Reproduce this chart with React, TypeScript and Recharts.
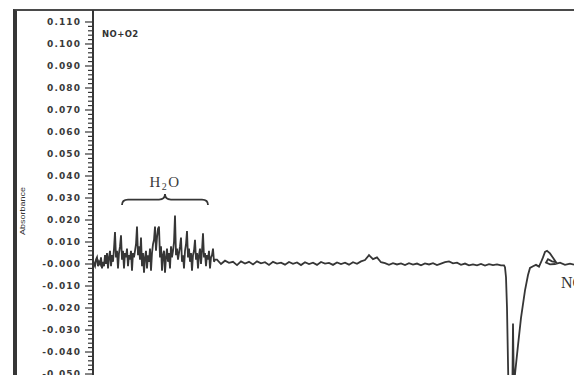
import React from 'react';
import { LineChart, Line, XAxis, YAxis, ReferenceArea, Customized } from 'recharts';

// Water band region: absorbance per channel, channels 0–122
const waterBandAbsorbance = [
  0.002, 0.0, -0.001, 0.002, 0.003, -0.001, 0.001, 0.0, 0.003, -0.002, 0.001, -0.001,
  0.004, 0.0, 0.005, -0.002, 0.003, 0.006, -0.001, 0.004, 0.001, 0.007,
  0.0145, 0.003, 0.006, -0.002, 0.005, 0.008, 0.013, 0.002, 0.006, -0.002,
  0.005, 0.003, 0.007, -0.001, 0.004, 0.002, 0.006, -0.003, 0.005, 0.003,
  0.006, 0.009, 0.017, 0.004, 0.008, 0.002, 0.012, -0.001, 0.005, -0.004,
  0.003, 0.006, -0.002, 0.004, 0.001, 0.007, -0.003, 0.005, 0.009, 0.011,
  0.017, 0.006, 0.012, 0.016, 0.017, 0.003, 0.008, -0.003, 0.004, 0.006,
  -0.004, 0.003, 0.007, 0.001, 0.005, -0.002, 0.008, 0.003, 0.006, 0.01,
  0.022, 0.004, 0.007, 0.002, 0.005, 0.008, 0.012, 0.001, 0.004, -0.002,
  0.006, 0.009, 0.015, 0.003, 0.007, 0.001, 0.005, -0.003, 0.004, 0.006,
  0.011, 0.002, 0.005, -0.002, 0.004, 0.007, 0.0, 0.006, 0.014, 0.003,
  0.005, -0.001, 0.004, 0.002, 0.006, -0.002, 0.003, 0.004, 0.007, 0.001, 0.002,
];

// Flat stretch: absorbance every 4 channels, from channel 124 to 408
const BASELINE_START = 124;
const BASELINE_STEP = 4;
const baselineAbsorbance = [
  0.002, 0.0, 0.0015, 0.0005, 0.001, -0.0005, 0.0012, 0.0002,
  0.001, -0.0002, 0.0012, 0.0003, 0.0008, -0.0004, 0.001, 0.0002,
  0.0006, -0.0003, 0.0009, 0.0001, 0.0007, -0.0005, 0.0008, 0.0,
  0.0006, -0.0004, 0.0009, 0.0002, 0.0005, -0.0004, 0.0007, 0.0,
  0.0006, -0.0003, 0.0008, 0.0001, 0.0012, 0.0018, 0.004, 0.0022,
  0.003, 0.0008, 0.0004, -0.0004, 0.0004, -0.0002, 0.0003, -0.0005,
  0.0004, -0.0003, 0.0002, -0.0006, 0.0003, -0.0002, 0.0004, -0.0005,
  0.0002, 0.0008, 0.0012, 0.0003, 0.0006, -0.0004, 0.0002, -0.0006,
  -0.0002, -0.0006, 0.0, -0.0007, -0.0001, -0.0005, -0.0002, -0.0006,
];

// NO band: negative band and the small feature after it (traced in order)
const noBandChannels = [
  411, 412, 413, 414, 415, 416, 418, 419, 420, 421, 422, 425, 428, 432, 435, 437,
  440, 443, 446, 448, 450, 452, 454, 457, 460, 463, 459, 455, 453, 457, 462, 467,
  472, 477, 481,
];
const noBandAbsorbance = [
  -0.0006, -0.0015, -0.006, -0.02, -0.045, -0.07, -0.078, -0.075, -0.027, -0.06,
  -0.05, -0.037, -0.0245, -0.012, -0.005, -0.0018, -0.001, -0.0004, -0.0012, 0.0008,
  0.003, 0.0055, 0.006, 0.0048, 0.0028, 0.0008, 0.0012, 0.0022, 0.0006, -0.0002,
  0.0, 0.0006, -0.0004, 0.0002, -0.0003,
];

// Y axis: labelled major ticks, with four minor ticks between each pair
const majorTicks = [0.11, 0.1, 0.09, 0.08, 0.07, 0.06, 0.05, 0.04, 0.03, 0.02, 0.01, 0, -0.01, -0.02, -0.03, -0.04, -0.05];
const majorTickLabels = [
  '0.110', '0.100', '0.090', '0.080', '0.070', '0.060', '0.050', '0.040', '0.030',
  '0.020', '0.010', '-0.000', '-0.010', '-0.020', '-0.030', '-0.040', '-0.050',
];
const MINOR_STEP = 0.002;

const yDomain: [number, number] = [-0.05045, 0.11545];
const xDomain: [number, number] = [0, 481];

const spectrum = [
  ...waterBandAbsorbance.map((a, i) => ({ channel: i, absorbance: a })),
  ...baselineAbsorbance.map((a, i) => ({ channel: BASELINE_START + i * BASELINE_STEP, absorbance: a })),
  ...noBandChannels.map((c, i) => ({ channel: c, absorbance: noBandAbsorbance[i] })),
];

const allTicks: number[] = [];
majorTicks.forEach((m, i) => {
  allTicks.push(m);
  if (i < majorTicks.length - 1) {
    for (let k = 1; k < 5; k++) allTicks.push(+(m - k * MINOR_STEP).toFixed(4));
  }
});

const INK = '#363636';

const YTick = (props: any) => {
  const { x, y, payload } = props;
  const v = payload.value as number;
  const idx = majorTicks.findIndex((m) => Math.abs(m - v) < 1e-7);
  const isMajor = idx >= 0;
  return (
    <g>
      <line x1={x - (isMajor ? 8 : 5)} x2={x} y1={y} y2={y} stroke={INK} strokeWidth={1.2} />
      {isMajor && (
        <text
          x={x - 12}
          y={y}
          dy="0.36em"
          textAnchor="end"
          fontFamily="DejaVu Sans"
          fontWeight="bold"
          fontSize={9}
          letterSpacing={1.1}
          fill="#3a3a3a"
        >
          {majorTickLabels[idx]}
        </text>
      )}
    </g>
  );
};

// Curly brace spanning the water band, with its formula above it
const WaterBrace = (props: any) => {
  const { x, y, width, height } = props;
  const cx = x + width / 2;
  const ym = y + height * 0.5;
  const b = y + height;
  const d = `M${x},${b} Q${x},${ym} ${x + 6},${ym} L${cx - 6},${ym} Q${cx},${ym} ${cx},${y} Q${cx},${ym} ${cx + 6},${ym} L${x + width - 6},${ym} Q${x + width},${ym} ${x + width},${b}`;
  return (
    <g>
      <path d={d} fill="none" stroke={INK} strokeWidth={1.8} />
      <text x={cx} y={y - 7} textAnchor="middle" fontFamily="Liberation Serif" fontSize={15} fill="#3a3a3a" letterSpacing={1.5}>
        <tspan>H</tspan>
        <tspan fontSize={10} dy={3}>2</tspan>
        <tspan dy={-3}>O</tspan>
      </text>
    </g>
  );
};

const Annotations = () => (
  <g>
    <text
      x={25}
      y={211}
      transform="rotate(-90 25 211)"
      textAnchor="middle"
      fontFamily="Liberation Sans"
      fontSize={7}
      textLength={48}
      lengthAdjust="spacingAndGlyphs"
      fill="#333"
    >
      Absorbance
    </text>
    <text x={102} y={37} fontFamily="DejaVu Sans" fontWeight="bold" fontSize={8.5} letterSpacing={0.4} fill="#333">
      NO+O2
    </text>
    <text x={561} y={288} fontFamily="Liberation Serif" fontSize={16} fill="#333">
      NO
    </text>
  </g>
);

export default function App() {
  return (
    <div style={{ position: 'absolute', left: 0, top: 0, width: 574, height: 375, overflow: 'hidden', background: '#fff' }}>
      <div
        style={{
          position: 'absolute',
          left: 13,
          top: 9,
          width: 600,
          height: 400,
          borderLeft: `4px solid ${INK}`,
          borderTop: `2px solid #4a4a4a`,
        }}
      />
      <div style={{ position: 'absolute', left: 0, top: 0 }}>
        <LineChart width={574} height={375} data={spectrum} margin={{ top: 10, right: 0, bottom: 0, left: 0 }}>
          <XAxis dataKey="channel" type="number" domain={xDomain} hide allowDataOverflow />
          <YAxis
            type="number"
            domain={yDomain}
            allowDataOverflow
            ticks={allTicks}
            interval={0}
            width={93}
            tickSize={0}
            tickMargin={0}
            tickLine={false}
            axisLine={{ stroke: INK, strokeWidth: 2 }}
            tick={<YTick />}
          />
          <ReferenceArea x1={29} x2={115} y1={0.0268} y2={0.0318} shape={<WaterBrace />} ifOverflow="visible" />
          <Line
            type="linear"
            dataKey="absorbance"
            stroke={INK}
            strokeWidth={1.8}
            dot={false}
            isAnimationActive={false}
          />
          <Customized component={Annotations} />
        </LineChart>
      </div>
    </div>
  );
}
